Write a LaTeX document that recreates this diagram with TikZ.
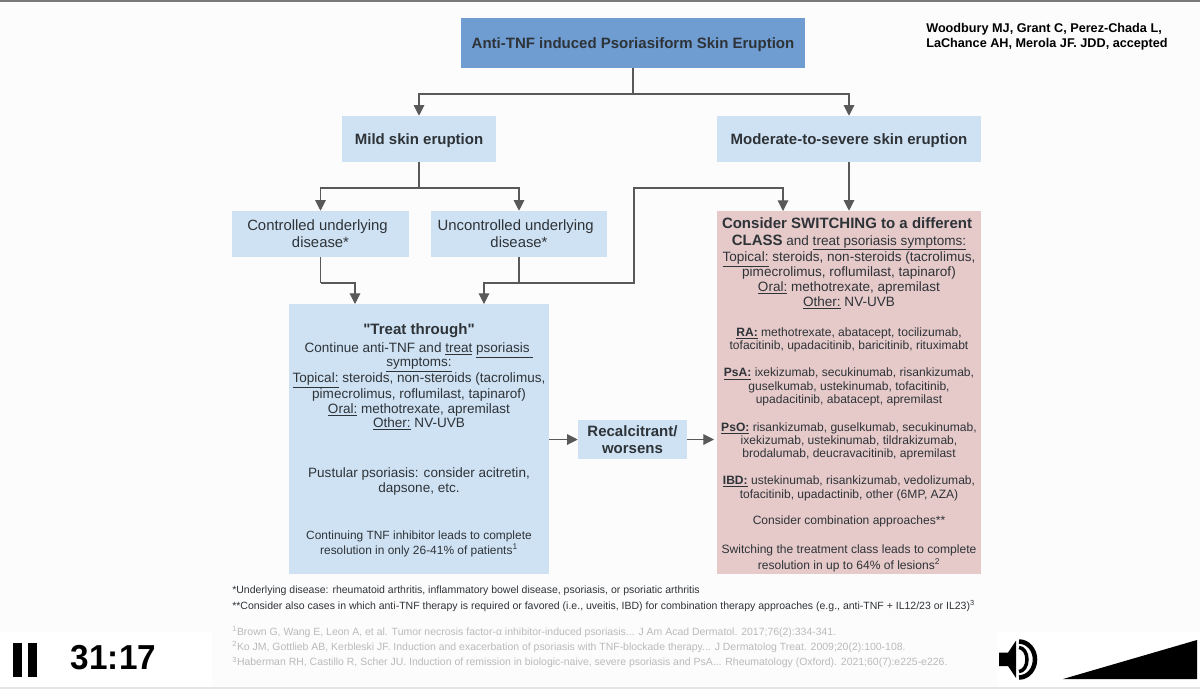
\documentclass[tikz,border=0pt]{standalone}
\usepackage{fontspec}
\setmainfont{Liberation Sans}[Ligatures=TeXOff]
\usetikzlibrary{arrows.meta}
\definecolor{boxtitle}{HTML}{6F9DD2}
\definecolor{boxpale}{HTML}{CFE2F3}
\definecolor{boxrose}{HTML}{E6CACA}
\definecolor{inkdark}{HTML}{2E3338}
\definecolor{linegrey}{HTML}{595959}
\newcommand{\headsize}{\fontsize{11.25}{12.75}\bfseries\selectfont}
\newcommand{\resultsize}{\fontsize{8.95}{11.25}\selectfont}
\newcommand{\drugsize}{\fontsize{9.05}{11.25}\selectfont}
\tikzset{
    flowbox/.style={fill=boxpale, text=inkdark, align=center, inner sep=0pt, font=\fontsize{10.15}{11.4}\selectfont},
    flowhead/.style={flowbox, font=\headsize},
    flowsingle/.style={flowhead, text height=10.6pt, text depth=2.4pt},
    flowpale/.style={flowbox, font=\fontsize{11.15}{12.75}\selectfont},
    flowline/.style={draw=linegrey, line width=0.8pt},
    flowarrow/.style={flowline, -{Triangle[width=8pt,length=8pt]}},
    notetext/.style={anchor=west, inner sep=0pt, text=inkdark, font=\fontsize{7.88}{9}\selectfont},
    reftext/.style={anchor=west, inner sep=0pt, text=black!27, font=\fontsize{7.85}{9}\selectfont},
}
\begin{document}
\begin{tikzpicture}[x=0.75pt, y=-0.75pt]
            \useasboundingbox (0,0) rectangle (1200,689);
            \fill [white!99!black] (0,0) rectangle (1200,689);
            \fill [linegrey!80] (0,0) rectangle (1200,1.5);
            \fill [black!10] (0,687) rectangle (1200,689);
            \node [flowsingle, fill=boxtitle, minimum width=258pt, minimum height=37.5pt] (title) at (633,43) {Anti-TNF induced Psoriasiform Skin Eruption};
            \node [flowsingle, minimum width=115.5pt, minimum height=34.5pt] (mild) at (419,139) {Mild skin eruption};
            \node [flowsingle, minimum width=198pt, minimum height=34.5pt] (severe) at (849,139) {Moderate-to-severe skin eruption};
            \node [flowpale, minimum width=132.75pt, minimum height=34.5pt] (controlled) at (320.5,234) {Controlled underlying\hspace*{4.5pt}\\disease*};
            \node [flowpale, minimum width=132pt, minimum height=34.5pt] (uncontrolled) at (519,234) {Uncontrolled underlying\hspace*{5pt}\\disease*};
            \node [flowbox, minimum width=195pt, minimum height=202.5pt] (treat) at (419,439) {{\rule{0pt}{10.4pt}\fontsize{11.3}{11.4}\bfseries\selectfont "Treat through"}\\[1.5pt]
                Continue anti-TNF and \underline{treat} \underline{psoriasis\ }\\[-0.7pt]
                \underline{symptoms:}\\[-0.7pt]
                \underline{Topical:} steroids, non-steroids (tacrolimus,\\[-0.2pt]
                pimecrolimus, roflumilast, tapinarof)\\
                \underline{Oral:} methotrexate, apremilast\\[-1.2pt]
                \underline{Other:} NV-UVB\\[26.5pt]
                Pustular psoriasis: consider acitretin,\\
                dapsone, etc.\\[23.3pt]
                {\resultsize Continuing TNF inhibitor leads to complete}\\
                {\resultsize resolution in only 26-41\% of patients\textsuperscript{1}}};
            \node [flowhead, minimum width=81.75pt, minimum height=29.5pt] (recalcitrant) at (632.5,439.5) {Recalcitrant/\\worsens};
            \node [flowbox, fill=boxrose, minimum width=198pt, minimum height=272.25pt, font=\fontsize{10.15}{11.25}\selectfont] (switching) at (849,392.5) {{\rule{0pt}{11pt}\headsize Consider SWITCHING to a different}\hspace*{3pt}\\[1.5pt]
                {\headsize CLASS} and \underline{treat psoriasis symptoms:}\\[0pt]
                \underline{Topical:} steroids, non-steroids (tacrolimus,\\[-1.2pt]
                pimecrolimus, roflumilast, tapinarof)\\
                \underline{Oral:} methotrexate, apremilast\\
                \underline{Other:} NV-UVB\\[10.8pt]
                {\drugsize \underline{\textbf{RA:}} methotrexate, abatacept, tocilizumab,}\\[-1.4pt]
                {\drugsize tofacitinib, upadacitinib, baricitinib, rituximabt}\\[9.5pt]
                {\drugsize \underline{\textbf{PsA:}} ixekizumab, secukinumab, risankizumab,}\\[-1.4pt]
                {\drugsize guselkumab, ustekinumab, tofacitinib,}\\[-1.4pt]
                {\drugsize upadacitinib, abatacept, apremilast}\\[9.7pt]
                {\drugsize \underline{\textbf{PsO:}} risankizumab, guselkumab, secukinumab,}\\[-1.4pt]
                {\drugsize ixekizumab, ustekinumab, tildrakizumab,}\\[-1.4pt]
                {\drugsize brodalumab, deucravacitinib, apremilast}\\[9.3pt]
                {\drugsize \underline{\textbf{IBD:}} ustekinumab, risankizumab, vedolizumab,}\\[-1.2pt]
                {\drugsize tofacitinib, upadactinib, other (6MP, AZA)}\\[8.5pt]
                {\drugsize Consider combination approaches**}\\[10.5pt]
                {\drugsize Switching the treatment class leads to complete}\\[0.5pt]
                {\drugsize resolution in up to 64\% of lesions\textsuperscript{2}}};
            \node [anchor=west, inner sep=0pt, align=left, text=black, font=\fontsize{9.5}{11.25}\bfseries\selectfont] (citation) at (926,36.5) {Woodbury MJ, Grant C, Perez-Chada L,\\LaChance AH, Merola JF. JDD, accepted};
            \node [notetext] (noteone) at (232,591) {*Underlying disease: rheumatoid arthritis, inflammatory bowel disease, psoriasis, or psoriatic arthritis};
            \node [notetext] (notetwo) at (232,606) {**Consider also cases in which anti-TNF therapy is required or favored (i.e., uveitis, IBD) for combination therapy approaches (e.g., anti-TNF + IL12/23 or IL23)\textsuperscript{3}};
            \node [reftext] (refone) at (232,632) {\textsuperscript{1}Brown G, Wang E, Leon A, et al. Tumor necrosis factor-α inhibitor-induced psoriasis... J Am Acad Dermatol. 2017;76(2):334-341.};
            \node [reftext] (reftwo) at (232,647) {\textsuperscript{2}Ko JM, Gottlieb AB, Kerbleski JF. Induction and exacerbation of psoriasis with TNF-blockade therapy... J Dermatolog Treat. 2009;20(2):100-108.};
            \node [reftext] (refthree) at (232,662.5) {\textsuperscript{3}Haberman RH, Castillo R, Scher JU. Induction of remission in biologic-naive, severe psoriasis and PsA... Rheumatology (Oxford). 2021;60(7):e225-e226.};
            \coordinate (titlefork) at (633,94);
            \coordinate (mildfork) at (419,188);
            \coordinate (controlledbend) at (320.5,283);
            \coordinate (uncontrolledfork) at (519,283);
            \coordinate (crossbend) at (634,188);
            \coordinate (treatleft) at (355,304);
            \coordinate (treatright) at (484,304);
            \coordinate (switchleft) at (783,211);
            \coordinate (treatout) at (549,439.5);
            \coordinate (switchin) at (714,439.5);
            \draw [flowline] (title) -- (titlefork);
            \draw [flowarrow] (titlefork) -| (mild);
            \draw [flowarrow] (titlefork) -| (severe);
            \draw [flowline] (mild) -- (mildfork);
            \draw [flowarrow] (mildfork) -| (controlled);
            \draw [flowarrow] (mildfork) -| (uncontrolled);
            \draw [flowarrow] (severe) -- (switching);
            \draw [flowline] (controlled) -- (controlledbend);
            \draw [flowarrow] (controlledbend) -| (treatleft);
            \draw [flowline] (uncontrolled) -- (uncontrolledfork);
            \draw [flowarrow] (uncontrolledfork) -| (treatright);
            \draw [flowarrow] (uncontrolledfork) -| (crossbend) -| (switchleft);
            \draw [flowarrow] (treatout) -- (recalcitrant);
            \draw [flowarrow] (recalcitrant) -- (switchin);
            \fill [white] (0,632) rectangle (212,687);
            \fill [white] (998,632) rectangle (1200,687);
            \fill [black] (13,643) rectangle (22,677);
            \fill [black] (27.5,643) rectangle (37,677);
            \node [inner sep=0pt, xscale=0.96, font=\fontsize{26}{28}\bfseries\selectfont] (clock) at (113.5,658) {31:17};
            \fill [black] (999,652.7) -- (1008,652.7) -- (1016,640.7) -- (1016,678) -- (1008,666) -- (999,666) -- cycle;
            \draw [black, line width=2.6pt] (1019,647.5) arc (-90:90:8 and 12);
            \draw [black, line width=3.4pt] (1019,641.5) arc (-90:90:16 and 18);
            \fill [black] (1063,679) -- (1197,640) -- (1197,679) -- cycle;
        \end{tikzpicture}
\end{document}
